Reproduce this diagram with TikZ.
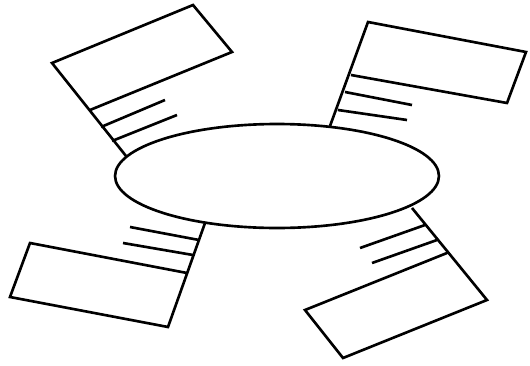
\documentclass[tikz,border=0pt]{standalone}
\usetikzlibrary{shapes.geometric}
\begin{document}
\begin{tikzpicture}[x=.02cm,y=-.02cm,line width=1.5pt]
	\useasboundingbox (0,0) rectangle (530,365);
	\node[draw,ellipse,minimum width=6.48cm,minimum height=2.08cm,inner sep=0pt] (oval) at (277,176) {};
	% feet of the poles on the oval
	\coordinate (tlfoot) at (126,156);
	\coordinate (trfoot) at (330,126);
	\coordinate (blfoot) at (205,223);
	\coordinate (brfoot) at (412,208);
	% flags
	\draw (tlfoot)--(52,63)--(193,5)--(232,52)--(90,110) (101,127)--(165,100) (112,141)--(177,115);
	\draw (trfoot)--(368,22)--(526,52)--(507,103)--(351,75) (345,92)--(412,105) (338,110)--(407,120);
	\draw (blfoot)--(168,327)--(10,297)--(30,243)--(187,273) (193,255)--(123,243) (199,240)--(130,227);
	\draw (brfoot)--(487,300)--(343,358)--(305,310)--(447,253) (425,225)--(360,248) (437,240)--(372,263);
\end{tikzpicture}
\end{document}
